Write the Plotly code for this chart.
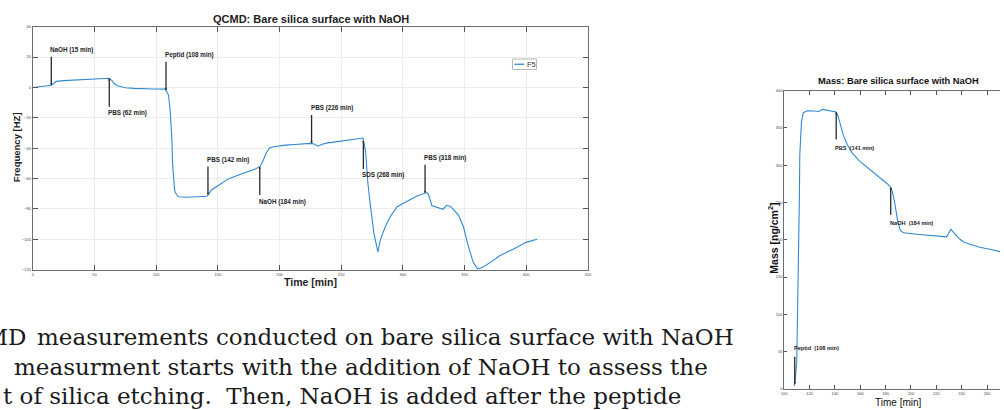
import numpy as np
import plotly.graph_objects as go

W, H = 1004, 410

# ---------------- QCMD frequency trace (F5) ----------------
qcmd_time = [0, 5, 10, 15, 17, 19, 25, 30, 40, 46, 55, 61, 62, 64, 66, 68.5, 72, 75, 82, 89, 98, 107.4,
             108.5, 110, 111.4, 112.8, 113.3, 114.2, 115, 116.5, 118, 125, 131.5, 138, 141, 142.3,
             145, 150.4, 158.4, 169, 180, 184.2, 186.6, 189.3, 192, 195, 198.7, 205, 212, 220, 225.5,
             228, 231.4, 234, 239, 244, 249.7, 258, 267.6, 269.8, 271.7, 273.8, 276.5, 279.7,
             281.9, 285.9, 289.9, 295.3, 303.3, 311.4, 319.5, 320.8, 323.5, 327.5, 332.4, 335.6,
             338.8, 345, 349, 353, 357, 360.5, 363.8, 370.5, 378.5, 389.3, 400, 408.9]
qcmd_freq = [0, 0.5, 1.0, 1.5, 2.6, 4.0, 4.5, 4.7, 5.1, 5.4, 5.7, 6.0, 6.1, 4.6, 2.6, 1.1, 0.2, -0.2, -0.6, -0.9, -1.0, -1.1,
             -2.5, -5, -16, -35, -50, -63, -68, -70.5, -72, -72.3, -72.2, -72, -71.6, -70.5,
             -67.3, -64.5, -60.2, -57, -53.8, -52, -48.4, -43, -39.8, -39, -38.5, -38, -37.6, -37.2, -36.8,
             -37.2, -38.7, -37.6, -36.5, -36, -35.3, -34.5, -33.3, -42, -63.4, -78.5, -95.7, -108.2,
             -100, -91.4, -85, -78.5, -74.8, -71.4, -69.2, -70.5, -77.8, -79.1, -80.2, -77.6,
             -78.5, -83.9, -91.4, -104.3, -115, -119.4, -118.7, -115.5, -110.8, -106.5, -102, -100]

qcmd_event_time = [15, 62, 108, 142, 184, 226, 268, 318]
qcmd_event_label = ["NaOH (15 min)", "PBS (62 min)", "Peptid (108 min)", "PBS (142 min)",
                    "NaOH (184 min)", "PBS (226 min)", "SDS (268 min)", "PBS (318 min)"]
qcmd_event_side = ["above", "below", "above", "above", "below", "above", "below", "above"]

qcmd_xticks = [0, 50, 100, 150, 200, 250, 300, 350, 400, 450]
qcmd_yticks = [-120, -100, -80, -60, -40, -20, 0, 20, 40]

# ---------------- Adsorbed mass trace ----------------
mass_time = [107.8, 108.3, 109.9, 111.2, 112.0, 112.3, 113.6, 115.1, 118.3, 123.5, 127.4, 130, 132.6,
             136.6, 141, 142.6, 144.4, 146.5, 149.7, 153.6, 158.8, 165.3, 173.2, 181, 184.2, 185.7,
             187.3, 189.4, 191.5, 194.1, 204.6, 215, 225.5, 228.1, 231.5, 234.6, 238.5, 241.2,
             246.4, 254.2, 262.1, 268.6, 271]
mass_value = [4, 6.2, 36, 146, 260, 314, 358, 370.4, 373, 372.6, 372, 374.8, 374,
              373, 371.3, 365, 354, 341, 327.7, 316.6, 306.5, 297.6, 287, 275.5, 270.2, 261.4,
              248.2, 226, 212.8, 209.3, 207.5, 206.2, 204.5, 204, 214.2, 207.5, 201, 197.4,
              193.9, 189.9, 187.3, 184.6, 183.8]

mass_event_time = [141, 184, 108.3]
mass_event_label = ["PBS  (141 min)", "NaOH  (184 min)", "Peptid  (108 min)"]
mass_event_side = ["below", "below", "above"]

mass_xticks = [100, 120, 140, 160, 180, 200, 220, 240, 260]
mass_yticks = [0, 50, 100, 150, 200, 250, 300, 350, 400]

body_lines = ["measurements conducted on bare silica surface with NaOH",
              "measurment starts with the addition of NaOH to assess the",
              "t of silica etching.  Then, NaOH is added after the peptide"]


def px(x):
    return x / W


def py(y):
    return 1 - y / H


LINE = "#3189d4"
SANS = "Liberation Sans, Arial, sans-serif"
SERIF = "DejaVu Serif, serif"

fig = go.Figure()
fig.add_trace(go.Scatter(x=qcmd_time, y=qcmd_freq, mode="lines", name="F5",
                         line=dict(color=LINE, width=1.1), xaxis="x", yaxis="y",
                         showlegend=False))
fig.add_trace(go.Scatter(x=mass_time, y=mass_value, mode="lines", name="mass",
                         line=dict(color=LINE, width=1.1), xaxis="x2", yaxis="y2",
                         showlegend=False))

axis_common = dict(ticks="inside", showline=True, linecolor="#6e6e6e", linewidth=1,
                   tickcolor="#555", zeroline=False,
                   tickfont=dict(family=SANS, size=4, color="#444"))

fig.update_layout(
    width=W, height=H, margin=dict(l=0, r=0, t=0, b=0),
    paper_bgcolor="white", plot_bgcolor="white",
    xaxis=dict(domain=[px(30), px(589)], range=[0, 450], tickvals=qcmd_xticks,
               ticklen=5, mirror="ticks", showgrid=True, gridcolor="#ececec", gridwidth=1,
               anchor="y", **axis_common),
    yaxis=dict(domain=[py(270), py(24)], range=[-120, 40], tickvals=qcmd_yticks,
               ticklen=5, mirror="ticks", showgrid=True, gridcolor="#ececec", gridwidth=1,
               anchor="x", **axis_common),
    xaxis2=dict(domain=[px(786.7), 1.0], range=[100, 270.2], tickvals=mass_xticks,
                ticklen=4, mirror="ticks", showgrid=False, anchor="y2", **axis_common),
    yaxis2=dict(domain=[py(390.7), py(88.7)], range=[0, 400], tickvals=mass_yticks,
                ticklen=3, mirror=False, showgrid=False, anchor="x2", **axis_common),
)

ann = []


def event_marks(times, labels, sides, xs, ys, xref, yref, arrow_len, text_gap, size):
    for t, lab, side in zip(times, labels, sides):
        yv = float(np.interp(t, xs, ys))
        tail = -arrow_len if side == "above" else arrow_len
        ann.append(dict(x=t, y=yv, xref=xref, yref=yref, text="", showarrow=True,
                        ax=0, ay=tail, arrowhead=2, arrowsize=0.35, arrowwidth=1.3,
                        arrowcolor="#2a2a2a", standoff=0))
        ann.append(dict(x=t, y=yv, xref=xref, yref=yref, text=lab, showarrow=False,
                        xanchor="left", yanchor="middle", xshift=-3,
                        yshift=text_gap if side == "above" else -text_gap,
                        font=dict(family=SANS, size=size, color="#222", weight="bold")))


event_marks(qcmd_event_time, qcmd_event_label, qcmd_event_side, qcmd_time, qcmd_freq,
            "x", "y", 30, 35, 6.3)
event_marks(mass_event_time, mass_event_label, mass_event_side, mass_time, mass_value,
            "x2", "y2", 29, 36, 5.6)


def label(x, y, text, size, bold=True, angle=0, family=SANS, color="#222", xanchor="center"):
    return dict(x=px(x), y=py(y), xref="paper", yref="paper", showarrow=False,
                xanchor=xanchor, yanchor="middle", textangle=angle, text=text,
                font=dict(family=family, size=size, color=color,
                          weight="bold" if bold else "normal"))


# titles and axis labels
ann += [
    label(310, 16, "QCMD: Bare silica surface with NaOH", 11),
    label(310, 282, "Time [min]", 10.5),
    label(13, 146, "Frequency [HZ]", 9.5, angle=-90),
    label(902, 79, "Mass: Bare silica surface with NaOH", 9.3, color="#111"),
    label(902, 404, "Time [min]", 10, bold=False, color="#111"),
    label(775, 238, "Mass [ng/cm<sup>2</sup>]", 10.5, angle=-90, color="#111"),
]

# legend box of the frequency panel
fig.add_shape(type="rect", xref="paper", yref="paper", x0=px(513), x1=px(537.3),
              y0=py(67.3), y1=py(56.7), line=dict(color="#b5b5b5", width=1), fillcolor="white")
fig.add_shape(type="line", xref="paper", yref="paper", x0=px(515), x1=px(525),
              y0=py(62), y1=py(62), line=dict(color=LINE, width=1.3))
ann.append(label(525.5, 62, "F5", 7.5, bold=False, color="#333", xanchor="left"))

# running text below the figures
ann += [
    label(25, 338, "QCMD", 23, bold=False, family=SERIF, color="#1a1a1a", xanchor="right"),
    label(32, 338, body_lines[0], 23, bold=False, family=SERIF, color="#1a1a1a", xanchor="left"),
    label(9, 368, body_lines[1], 23, bold=False, family=SERIF, color="#1a1a1a", xanchor="left"),
    label(-2, 398, body_lines[2], 23, bold=False, family=SERIF, color="#1a1a1a", xanchor="left"),
]

fig.update_layout(annotations=ann)
fig.write_html("out.html")
